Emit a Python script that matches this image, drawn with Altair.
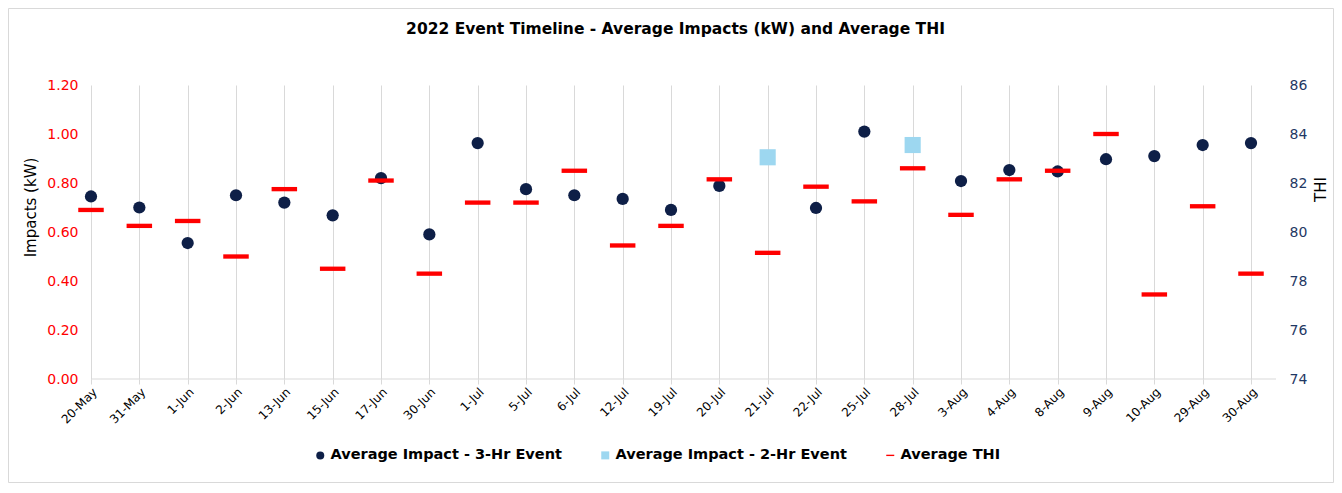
import altair as alt
import pandas as pd

dates = ["20-May", "31-May", "1-Jun", "2-Jun", "13-Jun", "15-Jun", "17-Jun", "30-Jun",
         "1-Jul", "5-Jul", "6-Jul", "12-Jul", "19-Jul", "20-Jul", "21-Jul", "22-Jul",
         "25-Jul", "28-Jul", "3-Aug", "4-Aug", "8-Aug", "9-Aug", "10-Aug", "29-Aug", "30-Aug"]
impact_3hr = [0.745, 0.700, 0.555, 0.750, 0.720, 0.668, 0.820, 0.590,
              0.963, 0.775, 0.750, 0.735, 0.690, 0.788, None, 0.698,
              1.010, None, 0.808, 0.853, 0.847, 0.897, 0.910, 0.955, 0.963]
impact_2hr = [None, None, None, None, None, None, None, None,
              None, None, None, None, None, None, 0.905, None,
              None, 0.955, None, None, None, None, None, None, None]
thi = [80.9, 80.25, 80.45, 79.0, 81.75, 78.5, 82.1, 78.3,
       81.2, 81.2, 82.5, 79.45, 80.25, 82.15, 79.15, 81.85,
       81.25, 82.6, 80.7, 82.15, 82.5, 84.0, 77.45, 81.05, 78.3]

title_text = "2022 Event Timeline - Average Impacts (kW) and Average THI"
series = ["Average Impact - 3-Hr Event", "Average Impact - 2-Hr Event", "Average THI"]
colors = ["#0E1F47", "#9DD7F0", "#FF0000"]
shapes = ["circle", "square", "M-1,-0.17H1V0.17H-1Z"]

rows = []
for d, a, b, t in zip(dates, impact_3hr, impact_2hr, thi):
    if a is not None:
        rows.append({"Date": d, "Series": series[0], "Impact": a})
    if b is not None:
        rows.append({"Date": d, "Series": series[1], "Impact": b})
    rows.append({"Date": d, "Series": series[2], "THI": t})
df = pd.DataFrame(rows)

font = "DejaVu Sans"
W, H = 1185, 294

x = alt.X("Date:N", sort=dates, scale=alt.Scale(domain=dates, range=[0, 1160], padding=0),
          axis=alt.Axis(title=None, labelAngle=-45, grid=True, gridColor="#D9D9D9",
                        domain=False, tickColor="#D9D9D9", tickSize=5,
                        labelFontSize=12, labelColor="#000000", labelPadding=2))

color = alt.Color("Series:N", scale=alt.Scale(domain=series, range=colors),
                  legend=alt.Legend(title=None, orient="none", direction="horizontal",
                                    legendX=222, legendY=363, labelFontSize=14.5,
                                    labelFontWeight="bold", labelColor="#000000",
                                    labelLimit=400, symbolSize=64, columnPadding=36,
                                    labelOffset=3))
shape = alt.Shape("Series:N", scale=alt.Scale(domain=series, range=shapes), legend=None)

y_left = alt.Y("Impact:Q", scale=alt.Scale(domain=[0, 1.2]),
               axis=alt.Axis(title="Impacts (kW)", values=[0, 0.2, 0.4, 0.6, 0.8, 1.0, 1.2],
                             format=".2f", grid=False, domain=False, ticks=False,
                             labelColor="#FF0000", labelFontSize=14, titleFontSize=15,
                             titleFontWeight="normal", titleColor="#000000", labelPadding=13,
                             titleAngle=270, titleAlign="center", titleBaseline="middle",
                             titleX=-61, titleY=122))
y_right = alt.Y("THI:Q", scale=alt.Scale(domain=[74, 86]),
                axis=alt.Axis(title="THI", orient="right", values=[74, 76, 78, 80, 82, 84, 86],
                              grid=False, domain=False, ticks=False, labelColor="#1F3864",
                              labelFontSize=14, titleFontSize=15, titleFontWeight="normal",
                              titleColor="#000000", titleAngle=270, titleAlign="center",
                              titleBaseline="middle", titleX=44, titleY=104, labelPadding=13))

base = alt.Chart(df)
pts3 = base.transform_filter(alt.datum.Series == series[0]).mark_point(
    filled=True, opacity=1, size=150).encode(x=x, y=y_left, color=color, shape=shape)
pts2 = base.transform_filter(alt.datum.Series == series[1]).mark_point(
    filled=True, opacity=1, size=260).encode(x=x, y=y_left, color=color, shape=shape)

one = pd.DataFrame({"k": [0]})
axis_line = alt.Chart(one).mark_rule(color="#D9D9D9", strokeWidth=1).encode(
    x=alt.value(0), x2=alt.value(W), y=alt.value(H))
frame = alt.Chart(one).mark_rect(fillOpacity=0, stroke="#D9D9D9", strokeWidth=1).encode(
    x=alt.value(-82.5), x2=alt.value(1242.5), y=alt.value(-76.5), y2=alt.value(397.5))
title = alt.Chart(one).mark_text(text=title_text, font=font, fontSize=15.5, fontWeight="bold",
                                 color="#000000", align="center", baseline="middle").encode(
    x=alt.value(584.5), y=alt.value(-56))

left = alt.layer(frame, axis_line, title, pts3, pts2)
dash = base.transform_filter(alt.datum.Series == series[2]).mark_point(
    filled=True, opacity=1, size=650).encode(x=x, y=y_right, color=color, shape=shape)

chart = alt.layer(left, dash).resolve_scale(y="independent").properties(
    width=W, height=H,
    autosize=alt.AutoSizeParams(type="none"),
    padding={"left": 83, "top": 77, "right": 58, "bottom": 104},
).configure(font=font).configure_view(stroke=None).configure_axis(labelFont=font, titleFont=font)

chart.save("out.html", embed_options={"renderer": "svg", "actions": False})
